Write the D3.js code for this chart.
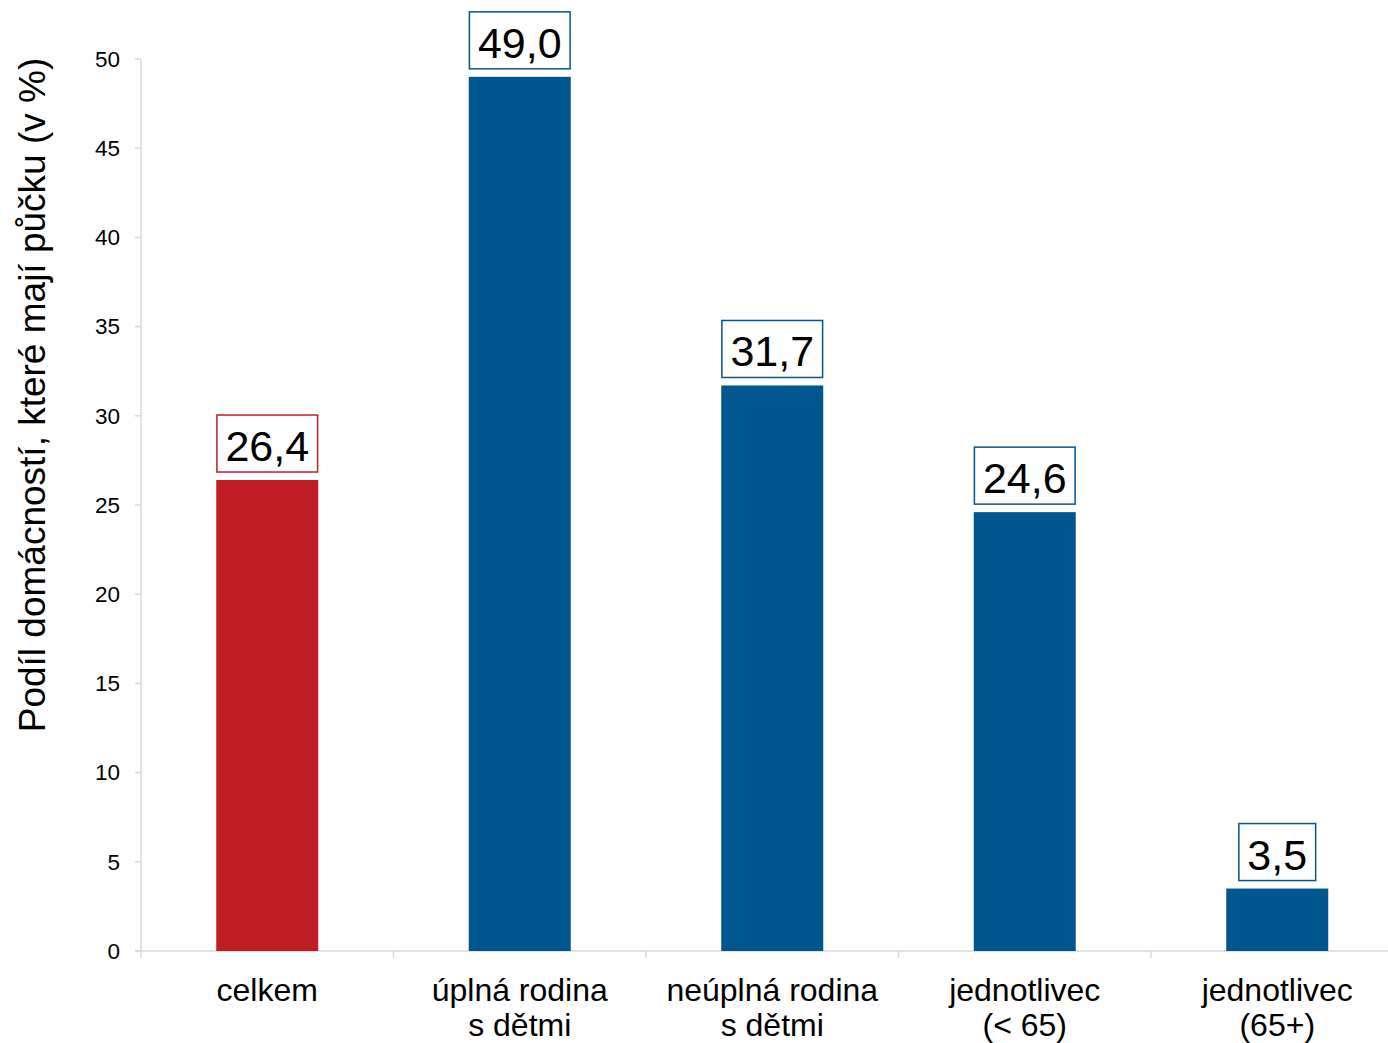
<!DOCTYPE html><html lang="cs">
<head>
  <meta charset="UTF-8">
  <title>Podíl domácností</title>
  <script src="https://d3js.org/d3.v7.min.js"></script>
  <style>
    body { margin: 0; background: white; font-family: "Liberation Sans", Arial, sans-serif; }
    svg { display: block; }
    .tick-label { font-size: 22.5px; fill: #000; }
    .cat-label { font-size: 32px; fill: #000; }
    .val-label { font-size: 43px; fill: #000; }
  </style>
</head>
<body>
<svg width="1388" height="1043"></svg>
<script>
const categories = [["celkem"], ["úplná rodina", "s dětmi"], ["neúplná rodina", "s dětmi"], ["jednotlivec", "(< 65)"], ["jednotlivec", "(65+)"]];
const values = [26.4, 49.0, 31.7, 24.6, 3.5];
const colors = ["#be1e24", "#00568f", "#00568f", "#00568f", "#00568f"];
const yTicks = [0, 5, 10, 15, 20, 25, 30, 35, 40, 45, 50];

const svg = d3.select("svg");
const plotLeft = 141, plotTop = 59, plotBottom = 951, bandW = 252.5;

const x = d3.scaleBand()
  .domain(d3.range(categories.length))
  .range([plotLeft, plotLeft + bandW * categories.length])
  .paddingInner(0).paddingOuter(0);
const y = d3.scaleLinear().domain([0, 50]).range([plotBottom, plotTop]);
const barW = 102;
const grey = "#d9d9d9";

// y axis
svg.append("line").attr("x1", plotLeft).attr("x2", plotLeft).attr("y1", plotTop).attr("y2", plotBottom)
  .attr("stroke", grey).attr("stroke-width", 1.5);
svg.selectAll("line.ytick").data(yTicks).enter().append("line")
  .attr("x1", plotLeft - 6).attr("x2", plotLeft).attr("y1", d => y(d)).attr("y2", d => y(d))
  .attr("stroke", grey).attr("stroke-width", 1.5);
svg.selectAll("text.ytl").data(yTicks).enter().append("text")
  .attr("class", "tick-label")
  .attr("x", plotLeft - 21).attr("y", d => y(d)).attr("dy", "0.35em")
  .attr("text-anchor", "end").text(d => d);

// x axis
svg.append("line").attr("x1", plotLeft - 6).attr("x2", plotLeft + bandW * categories.length).attr("y1", plotBottom).attr("y2", plotBottom)
  .attr("stroke", grey).attr("stroke-width", 1.5);
svg.selectAll("line.xtick").data(d3.range(categories.length + 1)).enter().append("line")
  .attr("x1", d => plotLeft + d * bandW).attr("x2", d => plotLeft + d * bandW)
  .attr("y1", plotBottom).attr("y2", plotBottom + 7)
  .attr("stroke", grey).attr("stroke-width", 1.5);

// bars
svg.selectAll("rect.bar").data(values).enter().append("rect")
  .attr("x", (d, i) => x(i) + x.bandwidth() / 2 - barW / 2)
  .attr("width", barW)
  .attr("y", d => y(d))
  .attr("height", d => y(0) - y(d))
  .attr("fill", (d, i) => colors[i]);

// value labels with boxes
const fmt = v => d3.format(".1f")(v).replace(".", ",");
values.forEach((v, i) => {
  const cx = x(i) + x.bandwidth() / 2;
  const g = svg.append("g");
  const t = g.append("text").attr("class", "val-label")
    .attr("x", cx).attr("y", y(v) - 19).attr("text-anchor", "middle").text(fmt(v));
  const bb = t.node().getBBox();
  g.insert("rect", "text")
    .attr("x", cx - bb.width / 2 - 8.5).attr("width", bb.width + 17)
    .attr("y", y(v) - 65).attr("height", 57)
    .attr("fill", "white").attr("stroke", colors[i]).attr("stroke-width", 1.5);
});

// category labels
categories.forEach((lines, i) => {
  const t = svg.append("text").attr("class", "cat-label")
    .attr("x", x(i) + x.bandwidth() / 2).attr("y", 1001).attr("text-anchor", "middle");
  lines.forEach((l, j) => t.append("tspan").attr("x", x(i) + x.bandwidth() / 2).attr("dy", j ? 35 : 0).text(l));
});

// y title
svg.append("text")
  .attr("transform", `translate(45,395) rotate(-90)`)
  .attr("text-anchor", "middle")
  .style("font-size", "37px")
  .text("Podíl domácností, které mají půčku (v %)");
</script>
</body>
</html>
